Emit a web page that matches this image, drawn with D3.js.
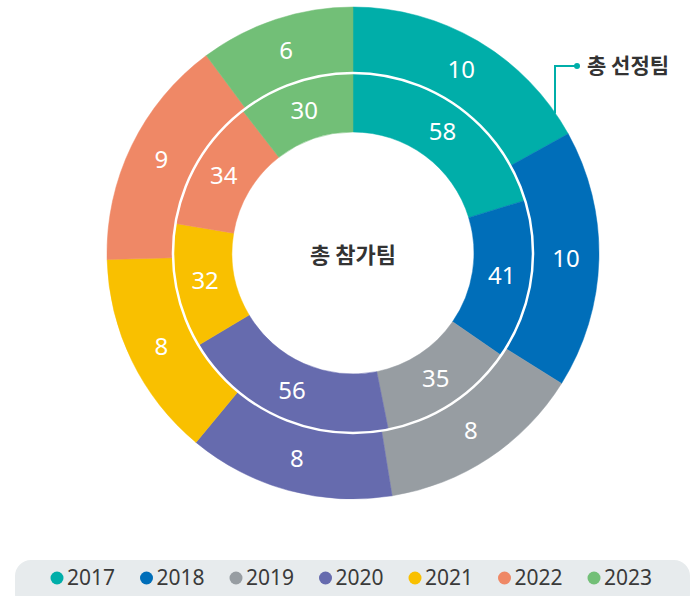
<!DOCTYPE html>
<html>
<head>
<meta charset="utf-8">
<script src="https://cdn.jsdelivr.net/npm/d3@7"></script>
<style>
  body { margin: 0; background: #fff; }
  svg text { font-family: "Noto Sans", "Noto Sans CJK KR", sans-serif; }
</style>
</head>
<body>
<div id="chart"></div>
<script>
// data
var years = ['2017', '2018', '2019', '2020', '2021', '2022', '2023'];
var totalTeams = [58, 41, 35, 56, 32, 34, 30];    // 총 참가팀 (inner ring)
var selectedTeams = [10, 10, 8, 8, 8, 9, 6];      // 총 선정팀 (outer ring)
var colors = ['#00aea9', '#006eb9', '#979da2', '#666bae', '#f9c000', '#ef8866', '#72bf77'];

var width = 693;
var height = 596;
var cx = 353, cy = 253;
var rOuter = 246, rMid = 180, rInner = 121;

var svg = d3.select('#chart')
  .append('svg')
  .attr('width', width)
  .attr('height', height);

var color = d3.scaleOrdinal().domain(years).range(colors);

var pie = d3.pie().sort(null).value(function (d) { return d.value; });

var innerArc = d3.arc().innerRadius(rInner).outerRadius(rMid);
var outerArc = d3.arc().innerRadius(rMid).outerRadius(rOuter);

var g = svg.append('g').attr('transform', 'translate(' + cx + ',' + cy + ')');

function ring(values, arc, cls) {
  var data = pie(values.map(function (v, i) { return { year: years[i], value: v }; }));
  var grp = g.append('g').attr('class', cls);
  grp.selectAll('path')
    .data(data)
    .enter()
    .append('path')
    .attr('d', arc)
    .attr('fill', function (d) { return color(d.data.year); })
    .attr('stroke', function (d) { return color(d.data.year); })
    .attr('stroke-width', 0.5);
  grp.selectAll('text')
    .data(data)
    .enter()
    .append('text')
    .attr('transform', function (d) { return 'translate(' + arc.centroid(d) + ')'; })
    .attr('text-anchor', 'middle')
    .attr('dy', '0.35em')
    .style('font-size', '24px')
    .style('fill', '#fff')
    .text(function (d) { return d.data.value; });
}

ring(totalTeams, innerArc, 'inner');
ring(selectedTeams, outerArc, 'outer');

// white separator between rings
g.append('circle')
  .attr('r', rMid)
  .attr('fill', 'none')
  .attr('stroke', '#fff')
  .attr('stroke-width', 2.5);

// center label
g.append('text')
  .attr('text-anchor', 'middle')
  .attr('dy', '0.35em')
  .attr('y', 2)
  .style('font-family', '"Noto Sans CJK KR", sans-serif')
  .style('font-weight', 700)
  .style('font-size', '22px')
  .style('fill', '#333')
  .text('총 참가팀');

// leader to outer ring label
var lx = 555, ly = 66;
var edgeY = cy - Math.sqrt(rOuter * rOuter - (lx - cx) * (lx - cx));
svg.append('path')
  .attr('d', 'M' + lx + ',' + (edgeY + 1) + 'V' + ly + 'H577')
  .attr('fill', 'none')
  .attr('stroke', colors[0])
  .attr('stroke-width', 2);
svg.append('circle')
  .attr('cx', 577).attr('cy', ly).attr('r', 3)
  .attr('fill', colors[0]);
svg.append('text')
  .attr('x', 587).attr('y', ly)
  .attr('dy', '0.35em')
  .style('font-family', '"Noto Sans CJK KR", sans-serif')
  .style('font-weight', 700)
  .style('font-size', '21px')
  .style('fill', '#333')
  .text('총 선정팀');

// legend
svg.append('rect')
  .attr('x', 15).attr('y', 560)
  .attr('width', 675).attr('height', 50)
  .attr('rx', 16)
  .attr('fill', '#e7ebed');

var legendX = d3.scalePoint().domain(years).range([57, 594]);

var item = svg.selectAll('.legend')
  .data(years)
  .enter()
  .append('g')
  .attr('class', 'legend')
  .attr('transform', function (d) { return 'translate(' + legendX(d) + ',578)'; });

item.append('circle')
  .attr('r', 6.5)
  .attr('fill', function (d) { return color(d); });

item.append('text')
  .attr('x', 10)
  .attr('dy', '0.35em')
  .style('font-size', '21px')
  .style('fill', '#3a3a3a')
  .text(function (d) { return d; });
</script>
</body>
</html>
